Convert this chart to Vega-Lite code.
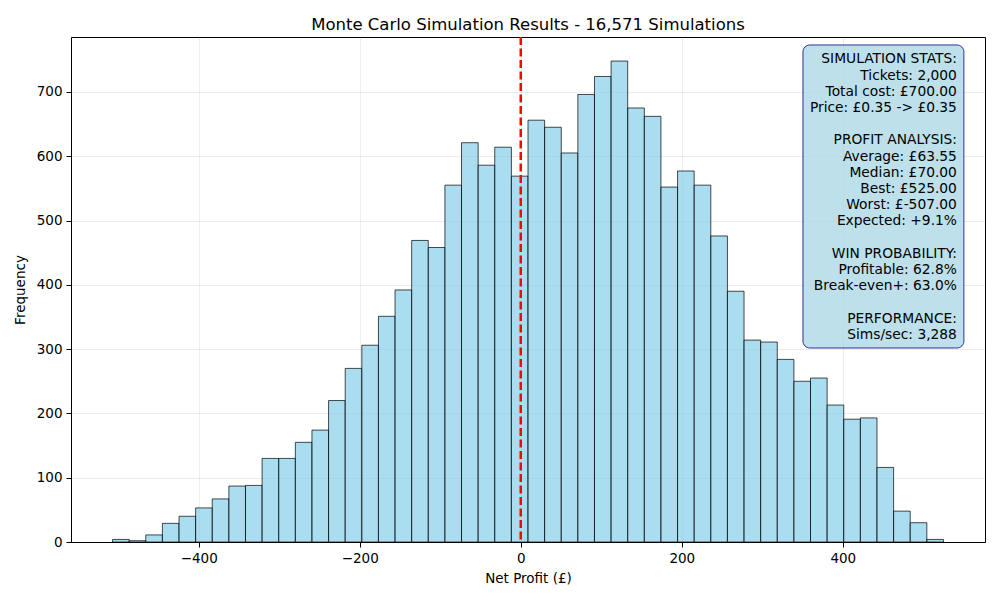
{
  "$schema": "https://vega.github.io/schema/vega-lite/v6.json",
  "width": 914,
  "height": 505,
  "autosize": "none",
  "padding": {"left": 71, "top": 37, "right": 15, "bottom": 58},
  "background": "white",
  "config": {
    "font": "DejaVu Sans",
    "view": {"stroke": "black", "strokeWidth": 1},
    "axis": {
      "domainColor": "black",
      "tickColor": "black",
      "tickSize": 5,
      "labelFontSize": 13.5,
      "labelColor": "black",
      "labelPadding": 4,
      "titleFontSize": 13.5,
      "titleFontWeight": "normal",
      "titleColor": "black",
      "gridColor": "#b0b0b0",
      "gridOpacity": 0.3,
      "gridWidth": 0.8
    },
    "title": {"fontSize": 16.5, "fontWeight": "normal", "color": "black", "offset": 2}
  },
  "title": "Monte Carlo Simulation Results - 16,571 Simulations",
  "layer": [
    {
      "data": {
        "values": [
          {"start": -507, "end": -486.36, "count": 4},
          {"start": -486.36, "end": -465.72, "count": 2},
          {"start": -465.72, "end": -445.08, "count": 11},
          {"start": -445.08, "end": -424.44, "count": 29},
          {"start": -424.44, "end": -403.8, "count": 40},
          {"start": -403.8, "end": -383.16, "count": 53},
          {"start": -383.16, "end": -362.52, "count": 67},
          {"start": -362.52, "end": -341.88, "count": 87},
          {"start": -341.88, "end": -321.24, "count": 88},
          {"start": -321.24, "end": -300.6, "count": 130},
          {"start": -300.6, "end": -279.96, "count": 130},
          {"start": -279.96, "end": -259.32, "count": 155},
          {"start": -259.32, "end": -238.68, "count": 174},
          {"start": -238.68, "end": -218.04, "count": 220},
          {"start": -218.04, "end": -197.4, "count": 270},
          {"start": -197.4, "end": -176.76, "count": 306},
          {"start": -176.76, "end": -156.12, "count": 351},
          {"start": -156.12, "end": -135.48, "count": 392},
          {"start": -135.48, "end": -114.84, "count": 469},
          {"start": -114.84, "end": -94.2, "count": 458},
          {"start": -94.2, "end": -73.56, "count": 555},
          {"start": -73.56, "end": -52.92, "count": 621},
          {"start": -52.92, "end": -32.28, "count": 586},
          {"start": -32.28, "end": -11.64, "count": 614},
          {"start": -11.64, "end": 9, "count": 569},
          {"start": 9, "end": 29.64, "count": 656},
          {"start": 29.64, "end": 50.28, "count": 645},
          {"start": 50.28, "end": 70.92, "count": 605},
          {"start": 70.92, "end": 91.56, "count": 696},
          {"start": 91.56, "end": 112.2, "count": 724},
          {"start": 112.2, "end": 132.84, "count": 748},
          {"start": 132.84, "end": 153.48, "count": 675},
          {"start": 153.48, "end": 174.12, "count": 662},
          {"start": 174.12, "end": 194.76, "count": 552},
          {"start": 194.76, "end": 215.4, "count": 577},
          {"start": 215.4, "end": 236.04, "count": 555},
          {"start": 236.04, "end": 256.68, "count": 476},
          {"start": 256.68, "end": 277.32, "count": 390},
          {"start": 277.32, "end": 297.96, "count": 314},
          {"start": 297.96, "end": 318.6, "count": 311},
          {"start": 318.6, "end": 339.24, "count": 284},
          {"start": 339.24, "end": 359.88, "count": 250},
          {"start": 359.88, "end": 380.52, "count": 255},
          {"start": 380.52, "end": 401.16, "count": 213},
          {"start": 401.16, "end": 421.8, "count": 191},
          {"start": 421.8, "end": 442.44, "count": 193},
          {"start": 442.44, "end": 463.08, "count": 116},
          {"start": 463.08, "end": 483.72, "count": 48},
          {"start": 483.72, "end": 504.36, "count": 30},
          {"start": 504.36, "end": 525, "count": 4}
        ]
      },
      "mark": {"type": "rect", "fill": "#87ceeb", "fillOpacity": 0.7, "stroke": "black", "strokeOpacity": 0.7, "strokeWidth": 1},
      "encoding": {
        "x": {
          "field": "start", "type": "quantitative",
          "scale": {"domain": [-558.6, 576.6], "nice": false, "zero": false},
          "axis": {"values": [-400, -200, 0, 200, 400], "title": "Net Profit (£)", "titlePadding": 7, "grid": true}
        },
        "x2": {"field": "end"},
        "y": {
          "field": "count", "type": "quantitative",
          "scale": {"domain": [0, 785.4], "nice": false},
          "axis": {"values": [0, 100, 200, 300, 400, 500, 600, 700], "title": "Frequency", "titlePadding": 9, "grid": true}
        },
        "y2": {"datum": 0}
      }
    },
    {
      "data": {"values": [{"profit": 0}]},
      "mark": {"type": "rule", "color": "red", "strokeWidth": 2.5, "strokeDash": [8, 3.5]},
      "encoding": {"x": {"field": "profit", "type": "quantitative"}}
    },
    {
      "data": {"values": [{"x0": 350.5, "x1": 550.4, "y0": 773, "y1": 301.7}]},
      "mark": {"type": "rect", "fill": "#add8e6", "fillOpacity": 0.8, "stroke": "navy", "strokeOpacity": 0.8, "strokeWidth": 1, "cornerRadius": 7},
      "encoding": {
        "x": {"field": "x0", "type": "quantitative"},
        "x2": {"field": "x1"},
        "y": {"field": "y0", "type": "quantitative"},
        "y2": {"field": "y1"}
      }
    },
    {
      "data": {"values": [{"tx": 541.7, "ty": 761.5, "stats": "SIMULATION STATS:\nTickets: 2,000\nTotal cost: £700.00\nPrice: £0.35 -> £0.35\n\u200b\nPROFIT ANALYSIS:\nAverage: £63.55\nMedian: £70.00\nBest: £525.00\nWorst: £-507.00\nExpected: +9.1%\n\u200b\nWIN PROBABILITY:\nProfitable: 62.8%\nBreak-even+: 63.0%\n\u200b\nPERFORMANCE:\nSims/sec: 3,288"}]},
      "mark": {"type": "text", "align": "right", "baseline": "top", "lineBreak": "\n", "lineHeight": 16.2, "fontSize": 13.8, "color": "black"},
      "encoding": {
        "x": {"field": "tx", "type": "quantitative"},
        "y": {"field": "ty", "type": "quantitative"},
        "text": {"field": "stats"}
      }
    }
  ]
}
